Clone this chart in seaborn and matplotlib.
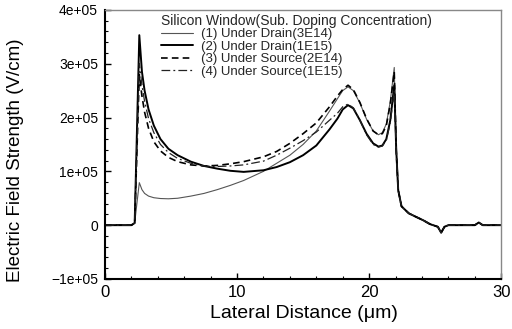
import matplotlib
matplotlib.use("Agg")
import matplotlib.pyplot as plt
import seaborn as sns
import pandas as pd
from matplotlib.ticker import MultipleLocator, FuncFormatter

sns.set_theme(style="white")
plt.rcParams['font.family'] = ['Liberation Sans', 'DejaVu Sans']

x = [0, 2.0, 2.25, 2.6, 2.8, 3.0, 3.3, 3.7, 4.2, 4.8, 5.5, 6.5, 7.5, 8.5, 9.5, 10.5,
     12, 13, 14, 15, 16, 17, 17.6, 18.0, 18.4, 18.8, 19.3, 19.8, 20.3, 20.7, 21.0,
     21.3, 21.6, 21.9, 22.05, 22.2, 22.45, 23.0, 23.5, 24.1, 24.6, 25.2, 25.45, 25.7,
     26.0, 28.0, 28.3, 28.6, 30]

head = [0, 0, 4e3]
tail = [1.4e5, 6.5e4, 3.5e4, 2.2e4, 1.6e4, 9e3, 2e3, -3e3, -1.4e4, -3e3, 0, 0, 5e3, 0, 0]

drain_3e14 = head + [7.9e4, 6.6e4, 5.9e4, 5.4e4, 5.1e4, 4.95e4, 4.9e4, 5.0e4, 5.4e4, 5.9e4,
                     6.6e4, 7.4e4, 8.3e4, 1.0e5, 1.15e5, 1.3e5, 1.5e5, 1.75e5, 2.12e5, 2.35e5,
                     2.5e5, 2.57e5, 2.5e5, 2.27e5, 1.97e5, 1.75e5, 1.68e5, 1.72e5, 1.88e5,
                     2.3e5, 2.93e5] + tail
drain_1e15 = head + [3.53e5, 2.85e5, 2.5e5, 2.15e5, 1.85e5, 1.6e5, 1.42e5, 1.3e5, 1.18e5, 1.1e5,
                     1.05e5, 1.01e5, 9.9e4, 1.02e5, 1.08e5, 1.17e5, 1.3e5, 1.48e5, 1.78e5, 1.98e5,
                     2.15e5, 2.23e5, 2.17e5, 1.95e5, 1.7e5, 1.52e5, 1.46e5, 1.48e5, 1.6e5,
                     1.95e5, 2.6e5] + tail
source_2e14 = head + [2.8e5, 2.4e5, 2.1e5, 1.8e5, 1.55e5, 1.38e5, 1.26e5, 1.18e5, 1.12e5, 1.1e5,
                      1.11e5, 1.14e5, 1.18e5, 1.27e5, 1.37e5, 1.52e5, 1.7e5, 1.9e5, 2.2e5, 2.4e5,
                      2.52e5, 2.6e5, 2.52e5, 2.28e5, 1.98e5, 1.75e5, 1.68e5, 1.7e5, 1.85e5,
                      2.25e5, 2.85e5] + tail
source_1e15 = head + [3.0e5, 2.6e5, 2.3e5, 1.98e5, 1.72e5, 1.5e5, 1.35e5, 1.24e5, 1.15e5, 1.1e5,
                      1.09e5, 1.1e5, 1.12e5, 1.19e5, 1.3e5, 1.43e5, 1.57e5, 1.73e5, 1.95e5, 2.08e5,
                      2.2e5, 2.25e5, 2.18e5, 1.95e5, 1.68e5, 1.5e5, 1.45e5, 1.47e5, 1.58e5,
                      1.9e5, 2.5e5] + tail

labels = ["(1) Under Drain(3E14)", "(2) Under Drain(1E15)",
          "(3) Under Source(2E14)", "(4) Under Source(1E15)"]
series = [drain_3e14, drain_1e15, source_2e14, source_1e15]
styles = [dict(color="#555555", lw=0.8, ls="-"),
          dict(color="black", lw=1.4, ls="-"),
          dict(color="black", lw=1.2, ls=(0, (4, 2.5))),
          dict(color="#222222", lw=0.9, ls=(0, (7, 2.5, 1.5, 2.5)))]

fig = plt.figure(figsize=(5.12, 3.29), dpi=100)
ax = fig.add_axes([0.205, 0.152, 0.774, 0.818])

for lab, ys, st in zip(labels, series, styles):
    df = pd.DataFrame({"x": x, "y": ys})
    sns.lineplot(data=df, x="x", y="y", ax=ax, label=lab, color=st["color"],
                 linewidth=st["lw"], linestyle=st["ls"], estimator=None, sort=False)

ax.set_xlim(0, 30)
ax.set_ylim(-1e5, 4e5)
ax.xaxis.set_major_locator(MultipleLocator(10))
ax.xaxis.set_minor_locator(MultipleLocator(2))
ax.yaxis.set_major_locator(MultipleLocator(1e5))
ax.yaxis.set_minor_locator(MultipleLocator(2e4))

def yfmt(v, pos):
    if abs(v) < 1:
        return "0"
    s = f"{v:.0e}"
    return s.replace("-", "\u2212")
ax.yaxis.set_major_formatter(FuncFormatter(yfmt))

ax.tick_params(which="both", direction="in", top=False, right=False,
               bottom=True, left=True, colors="black")
ax.tick_params(which="major", length=4, width=1)
ax.tick_params(which="minor", length=2.5, width=0.8)
ax.tick_params(axis="y", labelsize=10, pad=5)
ax.tick_params(axis="x", labelsize=12, pad=4)

for s in ["left", "bottom"]:
    ax.spines[s].set_color("black")
    ax.spines[s].set_linewidth(1.5)
for s in ["top", "right"]:
    ax.spines[s].set_color("#888888")
    ax.spines[s].set_linewidth(1.0)

ax.set_xlabel("Lateral Distance (\u03bcm)", fontsize=14, color="black")
ax.set_ylabel("Electric Field Strength (V/cm)", fontsize=13.5, color="black")
ax.xaxis.set_label_coords(0.501, -0.095)
ax.yaxis.set_label_coords(-0.205, 0.44)

leg = ax.legend(title="Silicon Window(Sub. Doping Concentration)", loc="upper left",
                bbox_to_anchor=(0.135, 0.995), frameon=False, fontsize=9.5,
                title_fontsize=10, handlelength=2.4, handletextpad=0.6,
                labelspacing=0.02, borderaxespad=0, borderpad=0.2)
leg._legend_box.align = "left"

fig.savefig("out.png", dpi=100)
